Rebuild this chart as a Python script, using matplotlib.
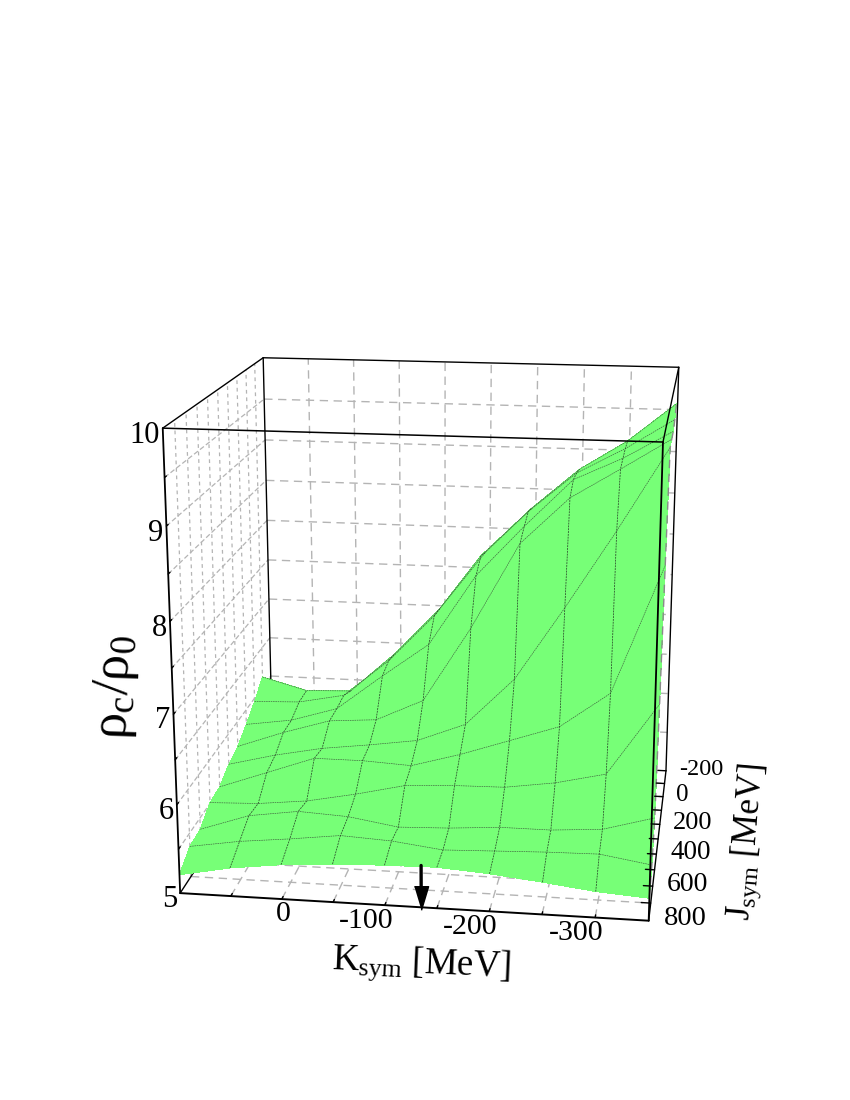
import numpy as np
import matplotlib
matplotlib.use("Agg")
import matplotlib.pyplot as plt
from mpl_toolkits.mplot3d import proj3d

plt.rcParams['font.family'] = ['Liberation Serif', 'DejaVu Serif']
plt.rcParams['mathtext.fontset'] = 'custom'
plt.rcParams['mathtext.rm'] = 'Liberation Serif'

# Surface
k_values = [100, 50, 0, -50, -100, -150, -200, -250, -300, -350]
j_values = [800, 700, 600, 500, 400, 300, 200, 100, 0, -100]
rho_800 = [5.21, 5.32, 5.39, 5.43, 5.45, 5.46, 5.42, 5.36, 5.29, 5.25]
rho_700 = [5.35, 5.44, 5.50, 5.57, 5.54, 5.47, 5.49, 5.51, 5.52, 5.43]
rho_600 = [5.37, 5.56, 5.64, 5.61, 5.52, 5.54, 5.58, 5.58, 5.62, 5.78]
rho_500 = [5.51, 5.53, 5.59, 5.70, 5.83, 5.86, 5.87, 5.95, 6.08, 6.90]
rho_400 = [5.53, 5.73, 5.93, 5.93, 5.90, 6.06, 6.25, 6.44, 6.85, 8.31]
rho_300 = [5.64, 5.78, 5.89, 5.96, 6.04, 6.26, 6.82, 7.67, 8.56, 9.50]
rho_200 = [5.70, 5.90, 6.07, 6.11, 6.37, 7.26, 8.27, 8.81, 9.15, 9.50]
rho_100 = [5.82, 5.90, 6.07, 6.50, 6.91, 7.76, 8.36, 8.92, 9.18, 9.50]
rho_0 = [5.96, 5.98, 6.09, 6.55, 7.13, 7.88, 8.43, 8.90, 9.20, 9.55]
rho_m100 = [6.13, 5.98, 6.00, 6.50, 7.09, 7.81, 8.37, 8.85, 9.20, 9.65]

k_ticks = [0, -100, -200, -300]
j_ticks = [800, 600, 400, 200, 0, -200]
z_ticks = [5, 6, 7, 8, 9, 10]
k_arrow = -135

k_min, k_max = 100, -350
j_front, j_back = 800, -200
z_low, z_high = 5, 10

GREEN = '#77ff77'
GRID = '#b4b4b4'

fig = plt.figure(figsize=(8.5, 11), dpi=100)
ax = fig.add_axes([4.75 / 850, 45.75 / 1100, 1, 850 / 1100], projection='3d', computed_zorder=False)
ax.set_axis_off()
ax.patch.set_visible(False)
ax.set_proj_type('persp', focal_length=0.455)
ax.view_init(elev=16.1, azim=-81.84)
ax.set_box_aspect((2.012, 1.82, 2.032), zoom=0.856)
ax.set_xlim(k_min, k_max)
ax.set_ylim(j_front, j_back)
ax.set_zlim(z_low, z_high)


def line3(xs, ys, zs, color='k', lw=1.0, ls='-', zorder=5):
    ax.plot(xs, ys, zs, color=color, lw=lw, ls=ls, zorder=zorder, solid_capstyle='round')


def label3(x, y, z, s, **kw):
    # text anchored at a data position, placed through the axes' own projection
    px, py, _ = proj3d.proj_transform(x, y, z, ax.get_proj())
    ax.text2D(px, py, s, transform=ax.transData, va='center', zorder=8, **kw)


# Grid on the walls and floor
dash = (0, (6, 4))
k_grid = np.arange(50, -350, -50)
j_grid = np.arange(700, -200, -100)
z_grid = np.arange(5.5, 10, 0.5)
for k in k_grid:
    line3([k, k], [j_back, j_back], [z_low, z_high], GRID, 1.0, dash, 1)
    line3([k, k], [j_front, j_back], [z_low, z_low], GRID, 1.0, dash, 1)
for j in j_grid:
    line3([k_min, k_min], [j, j], [z_low, z_high], GRID, 0.9, (0, (3, 3)), 1)
    line3([k_min, k_max], [j, j], [z_low, z_low], GRID, 1.0, dash, 1)
for z in z_grid:
    line3([k_min, k_max], [j_back, j_back], [z, z], GRID, 1.0, dash, 1)
    line3([k_min, k_min], [j_front, j_back], [z, z], GRID, 0.9, (0, (4, 2)), 1)

# Box edges behind the surface
line3([k_min, k_min], [j_back, j_back], [z_low, z_high], zorder=2)
line3([k_max, k_max], [j_back, j_back], [z_low, z_high], zorder=2)
line3([k_min, k_min], [j_front, j_back], [z_low, z_low], zorder=2)
line3([k_max, k_max], [j_front, j_back], [z_low, z_low], zorder=2)
line3([k_min, k_max], [j_back, j_back], [z_high, z_high], zorder=2)
line3([k_min, k_min], [j_front, j_back], [z_high, z_high], zorder=2)
line3([k_max, k_max], [j_front, j_back], [z_high, z_high], zorder=6)

# Surface with its mesh
K, J = np.meshgrid(k_values, j_values)
rho = np.array([rho_800, rho_700, rho_600, rho_500, rho_400,
                rho_300, rho_200, rho_100, rho_0, rho_m100])
ax.plot_surface(K, J, rho, color=GREEN, shade=False, rstride=1, cstride=1,
                linewidth=0, antialiased=False, zorder=3)
mesh = (0, (2.5, 1.2))
for i in range(1, len(j_values)):
    line3(K[i], J[i], rho[i], '#3c5c3c', 0.45, mesh, 4)
for i in range(1, len(k_values) - 1):
    line3(K[:, i], J[:, i], rho[:, i], '#2a4a2a', 0.55, mesh, 4)
line3(K[:, -1], J[:, -1], rho[:, -1], '#8a8a8a', 1.0, dash, 4)

# Front box edges
line3([k_min, k_min], [j_front, j_front], [z_low, z_high], lw=1.3, zorder=6)
line3([k_max, k_max], [j_front, j_front], [z_low, z_high], lw=1.3, zorder=6)
line3([k_min, k_max], [j_front, j_front], [z_low, z_low], lw=1.4, zorder=6)
line3([k_min, k_max], [j_front, j_front], [z_high, z_high], lw=1.1, zorder=6)

# Tick marks
for k in np.arange(50, -350, -50):
    line3([k, k], [j_front, j_front - 15], [z_low, z_low], lw=1.0, zorder=6)
for j in np.arange(700, -300, -100):
    line3([k_max, k_max + 9], [j, j], [z_low, z_low], lw=1.0, zorder=6)
for z in np.arange(5.5, 10, 0.5):
    line3([k_min, k_min], [j_front, j_front - 15], [z, z], lw=1.0, zorder=6)

# Arrow down to the Ksym axis
line3([k_arrow, k_arrow], [j_front, j_front], [5.1, 5.47], lw=2.4, zorder=7)
ax.plot([k_arrow], [j_front], [5.1], marker=[(-0.6, 1), (0.6, 1), (0, -1)], ms=17,
        color='k', ls='none', zorder=7)

# Tick labels
for k in k_ticks:
    label3(k - 8, j_front, z_low - 0.17, str(k), fontsize=21.5, ha='right')
j_sizes = [20.5, 20, 19.5, 19, 18, 17.5]
for j, size in zip(j_ticks, j_sizes):
    label3(k_max - 14, j, z_low + 0.03, str(j), fontsize=size, ha='left')
for z in z_ticks:
    label3(k_min + 3, j_front, z - 0.075, str(z), fontsize=22, ha='right')

# Axis titles
fig.text(421 / 850, 1 - 965 / 1100, r'$\mathregular{K_{sym}}$ [MeV]', fontsize=26.5, rotation=-2.5,
         ha='center', va='center')
fig.text(749 / 850, 1 - 842 / 1100, r'$\mathregular{J_{sym}}$ [MeV]', fontsize=25, rotation=85,
         ha='center', va='center')
fig.text(116 / 850, 1 - 687 / 1100, r'$\mathregular{ρ_c/ρ_0}$', fontsize=38, rotation=88,
         ha='center', va='center')

fig.savefig('out.png', dpi=100)
